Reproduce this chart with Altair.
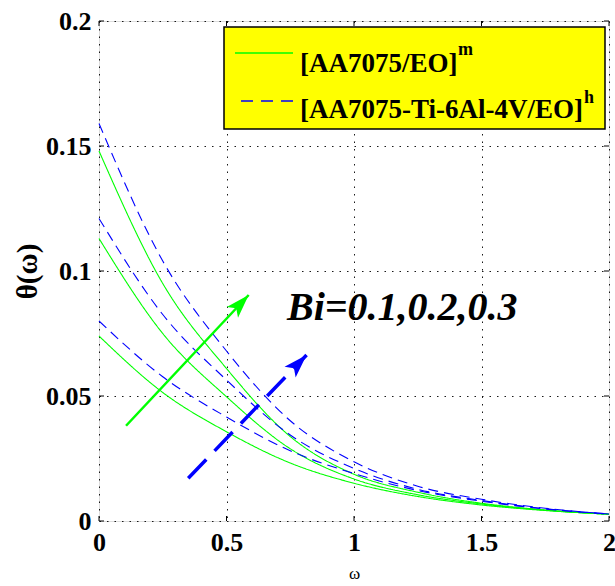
import math
import altair as alt
import pandas as pd

# ---- data -------------------------------------------------------------
omega = [0.0, 0.25, 0.5, 0.75, 1.0, 1.25, 1.5, 1.75, 2.0]
bi_values = [0.1, 0.2, 0.3]

# mono nanofluid [AA7075/EO]^m
theta_m_bi01 = [0.074, 0.0514, 0.0357, 0.0232, 0.0151, 0.0098, 0.0064, 0.0042, 0.0027]
theta_m_bi02 = [0.113, 0.0750, 0.0497, 0.0289, 0.0168, 0.0105, 0.0068, 0.0043, 0.0027]
theta_m_bi03 = [0.148, 0.0950, 0.0610, 0.0338, 0.0187, 0.0115, 0.0071, 0.0044, 0.0027]

# hybrid nanofluid [AA7075-Ti-6Al-4V/EO]^h
theta_h_bi01 = [0.080, 0.0577, 0.0416, 0.0281, 0.0190, 0.0122, 0.0079, 0.0048, 0.0028]
theta_h_bi02 = [0.121, 0.0826, 0.0564, 0.0344, 0.0210, 0.0127, 0.0082, 0.0049, 0.0028]
theta_h_bi03 = [0.159, 0.1040, 0.0680, 0.0401, 0.0237, 0.0139, 0.0087, 0.0051, 0.0028]

materials = ["[AA7075/EO]", "[AA7075-Ti-6Al-4V/EO]"]
superscripts = ["m", "h"]
x_ticks = [0, 0.5, 1, 1.5, 2]
y_ticks = [0, 0.05, 0.1, 0.15, 0.2]

# arrow endpoints (omega, theta): tail then tip
green_arrow_x = [0.106, 0.587]
green_arrow_y = [0.0381, 0.0904]
blue_arrow_x = [0.35, 0.814]
blue_arrow_y = [0.0171, 0.0664]

bi_label = "Bi=0.1,0.2,0.3"

# ---- layout -----------------------------------------------------------
W, H = 510, 500
X_DOM = [0, 2]
Y_DOM = [0, 0.2]
GREEN = "#00ff00"
BLUE = "#0000ff"
FONT = "'Liberation Serif', 'Times New Roman', Times, serif"

series = {
    (materials[0], 0.1): theta_m_bi01,
    (materials[0], 0.2): theta_m_bi02,
    (materials[0], 0.3): theta_m_bi03,
    (materials[1], 0.1): theta_h_bi01,
    (materials[1], 0.2): theta_h_bi02,
    (materials[1], 0.3): theta_h_bi03,
}
rows = []
for (mat, bi), vals in series.items():
    for w, t in zip(omega, vals):
        rows.append({"omega": w, "theta": t, "material": mat, "Bi": bi})
df = pd.DataFrame(rows)

x_scale = alt.Scale(domain=X_DOM, nice=False, zero=False)
y_scale = alt.Scale(domain=Y_DOM, nice=False, zero=False)

x_axis = alt.Axis(
    values=x_ticks, format="~g", title="ω", grid=True, ticks=False, domain=False,
    labelFont=FONT, labelFontSize=26, labelFontWeight="bold", labelColor="black",
    labelPadding=8, labelFlush=False, labelOverlap=False,
    titleFont=FONT, titleFontSize=17, titleFontWeight="normal", titleColor="black",
    titleY=57, titleBaseline="alphabetic",
    gridColor="black", gridDash=[1.5, 6], gridWidth=1, gridOpacity=0.9,
)
y_axis = alt.Axis(
    values=y_ticks, format="~g", title="θ(ω)", grid=True, ticks=False, domain=False,
    labelFont=FONT, labelFontSize=26, labelFontWeight="bold", labelColor="black",
    labelPadding=8, labelFlush=False, labelOverlap=False,
    titleFont=FONT, titleFontSize=29, titleFontWeight="bold", titleColor="black",
    titleX=-72, titleY=H / 2, titleBaseline="middle", titleAlign="center", titleAngle=-90,
    gridColor="black", gridDash=[1.5, 6], gridWidth=1, gridOpacity=0.9,
)


def X(field):
    return alt.X(field, scale=x_scale, axis=x_axis)


def Y(field):
    return alt.Y(field, scale=y_scale, axis=y_axis)


lines = alt.Chart(df).mark_line(interpolate="monotone", strokeWidth=1.1).encode(
    x=X("omega:Q"),
    y=Y("theta:Q"),
    color=alt.Color("material:N", scale=alt.Scale(domain=materials, range=[GREEN, BLUE]), legend=None),
    strokeDash=alt.StrokeDash("material:N", scale=alt.Scale(domain=materials, range=[[1, 0], [10, 6]]), legend=None),
    detail="Bi:N",
)

# inward tick marks on all four sides
xt = pd.DataFrame({"v": x_ticks})
yt = pd.DataFrame({"v": y_ticks})
tick_len = 5
ticks = [
    alt.Chart(xt).mark_rule(color="black", strokeWidth=1).encode(
        x=X("v:Q"), y=alt.value(H), y2=alt.value(H - tick_len)),
    alt.Chart(xt).mark_rule(color="black", strokeWidth=1).encode(
        x=X("v:Q"), y=alt.value(0), y2=alt.value(tick_len)),
    alt.Chart(yt).mark_rule(color="black", strokeWidth=1).encode(
        y=Y("v:Q"), x=alt.value(0), x2=alt.value(tick_len)),
    alt.Chart(yt).mark_rule(color="black", strokeWidth=1).encode(
        y=Y("v:Q"), x=alt.value(W), x2=alt.value(W - tick_len)),
]


# arrows
def arrow_angle(xs, ys):
    dx = (xs[1] - xs[0]) / (X_DOM[1] - X_DOM[0]) * W
    dy = (ys[1] - ys[0]) / (Y_DOM[1] - Y_DOM[0]) * H
    return math.degrees(math.atan2(dx, dy))


HEAD = "M0,0 L0.55,1.7 L0,1.3 L-0.55,1.7 Z"


def arrow(xs, ys, color, dash, width):
    seg = pd.DataFrame({"x": [xs[0]], "y": [ys[0]], "x2": [xs[1]], "y2": [ys[1]]})
    rule_kwargs = dict(color=color, strokeWidth=width)
    if dash:
        rule_kwargs["strokeDash"] = dash
    shaft = alt.Chart(seg).mark_rule(**rule_kwargs).encode(
        x=X("x:Q"), y=Y("y:Q"), x2="x2:Q", y2="y2:Q")
    tip = pd.DataFrame({"x": [xs[1]], "y": [ys[1]]})
    head = alt.Chart(tip).mark_point(
        shape=HEAD, filled=True, color=color, opacity=1, size=784,
        angle=arrow_angle(xs, ys)).encode(x=X("x:Q"), y=Y("y:Q"))
    return [shaft, head]


green_arrow = arrow(green_arrow_x, green_arrow_y, GREEN, None, 2.5)
blue_arrow = arrow(blue_arrow_x, blue_arrow_y, BLUE, [26, 12], 3.5)

# Biot number annotation
bi_text = alt.Chart(pd.DataFrame({"t": [bi_label]})).mark_text(
    font=FONT, fontSize=40, fontWeight="bold", fontStyle="italic", color="black",
    align="left", baseline="alphabetic").encode(
    x=alt.value(188), y=alt.value(299), text="t:N")

# legend box
legend_box = alt.Chart(pd.DataFrame({"a": [0]})).mark_rect(
    fill="#ffff00", stroke="black", strokeWidth=1.5).encode(
    x=alt.value(125), x2=alt.value(506), y=alt.value(6), y2=alt.value(108))
legend_green = alt.Chart(pd.DataFrame({"a": [0]})).mark_rule(color=GREEN, strokeWidth=1.3).encode(
    x=alt.value(136), x2=alt.value(194), y=alt.value(32))
legend_blue = alt.Chart(pd.DataFrame({"a": [0]})).mark_rule(
    color=BLUE, strokeWidth=1.3, strokeDash=[12, 8]).encode(
    x=alt.value(142), x2=alt.value(194), y=alt.value(80))

leg = pd.DataFrame({"label": materials, "sup": superscripts,
                    "ly": [51, 97], "sx": [359, 485], "sy": [34, 82]})
legend_labels = alt.Chart(leg).mark_text(
    font=FONT, fontSize=27, fontWeight="bold", color="black", align="left",
    baseline="alphabetic").encode(
    x=alt.value(201), y=alt.Y("ly:Q", scale=None), text="label:N")
legend_sups = alt.Chart(leg).mark_text(
    font=FONT, fontSize=18, fontWeight="bold", color="black", align="left",
    baseline="alphabetic").encode(
    x=alt.X("sx:Q", scale=None), y=alt.Y("sy:Q", scale=None), text="sup:N")

chart = alt.layer(
    lines, *ticks, *green_arrow, *blue_arrow, bi_text,
    legend_box, legend_green, legend_blue, legend_labels, legend_sups,
).properties(
    width=W, height=H,
    autosize=alt.AutoSizeParams(type="none"),
    padding={"left": 99, "top": 21, "right": 6, "bottom": 65},
).configure_view(
    stroke="black", strokeWidth=1.2
).configure(
    background="white"
)

chart.save("out.html", embed_options={"renderer": "svg", "actions": False})
